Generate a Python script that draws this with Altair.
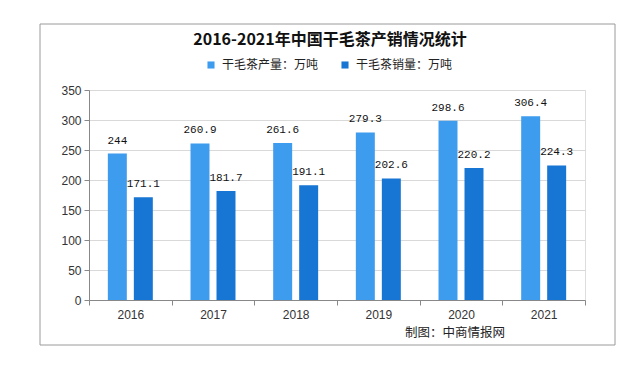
import altair as alt
import pandas as pd

years = ["2016", "2017", "2018", "2019", "2020", "2021"]
production = [244, 260.9, 261.6, 279.3, 298.6, 306.4]
sales = [171.1, 181.7, 191.1, 202.6, 220.2, 224.3]
production_labels = ["244", "260.9", "261.6", "279.3", "298.6", "306.4"]
sales_labels = ["171.1", "181.7", "191.1", "202.6", "220.2", "224.3"]
series = ["干毛茶产量：万吨", "干毛茶销量：万吨"]
colors = ["#3d9cee", "#1775d3"]
y_ticks = [0, 50, 100, 150, 200, 250, 300, 350]
title_text = "2016-2021年中国干毛茶产销情况统计"
footer_text = "制图：中商情报网"

rows = []
for i, yr in enumerate(years):
    rows.append({"year": yr, "series": series[0], "value": production[i], "label": production_labels[i]})
    rows.append({"year": yr, "series": series[1], "value": sales[i], "label": sales_labels[i]})
df = pd.DataFrame(rows)

x_enc = alt.X(
    "year:N",
    sort=years,
    scale=alt.Scale(paddingInner=0, paddingOuter=0),
    axis=alt.Axis(
        title=None, labelAngle=0, tickBand="extent", tickSize=5,
        labelFont="Liberation Sans", labelFontSize=12, labelColor="#333333",
        labelPadding=4, domainColor="#888888", tickColor="#888888", grid=False,
    ),
)
xoff_enc = alt.XOffset(
    "series:N", sort=series,
    scale=alt.Scale(paddingInner=0.27, paddingOuter=0.725),
)
y_enc = alt.Y(
    "value:Q",
    scale=alt.Scale(domain=[0, 350], nice=False),
    axis=alt.Axis(
        title=None, values=y_ticks, tickCount=8, tickSize=5, labelPadding=3,
        labelFont="Liberation Sans", labelFontSize=12, labelColor="#333333",
        labelOverlap=False,
        domainColor="#888888", tickColor="#888888", gridColor="#d9d9d9",
    ),
)

bars = alt.Chart(df).mark_bar().encode(
    x=x_enc,
    xOffset=xoff_enc,
    y=y_enc,
    color=alt.Color(
        "series:N", sort=series,
        scale=alt.Scale(domain=series, range=colors),
        legend=alt.Legend(
            title=None, orient="none", legendX=116, legendY=-31,
            direction="horizontal", symbolType="square", symbolSize=50,
            symbolStrokeWidth=0, labelFont="Noto Sans CJK SC", labelFontSize=12,
            labelColor="#222222", columnPadding=20, labelOffset=5,
        ),
    ),
)

texts = alt.Chart(df).mark_text(
    dy=-8, baseline="bottom", font="Liberation Mono", fontSize=11, color="#111111"
).encode(
    x=x_enc,
    xOffset=xoff_enc,
    y=y_enc,
    text="label:N",
)

frame = alt.Chart(pd.DataFrame({"k": [0]})).mark_rect(
    fill=None, stroke="#9a9a9a", strokeWidth=1
).encode(
    x=alt.value(-49), x2=alt.value(526), y=alt.value(-66), y2=alt.value(255)
)

footer = alt.Chart(pd.DataFrame({"t": [footer_text]})).mark_text(
    align="left", baseline="middle", font="Noto Sans CJK SC", fontSize=12.5, color="#222222"
).encode(
    x=alt.value(316), y=alt.value(243), text="t:N"
)

chart = alt.layer(frame, bars, texts, footer).properties(
    width=496,
    height=210,
    title=alt.TitleParams(
        title_text, font="Noto Sans CJK SC", fontSize=16, fontWeight="bold",
        color="#111111", anchor="middle", offset=-24, dx=-7,
    ),
    autosize=alt.AutoSizeParams(type="none"),
    padding={"left": 81, "top": 82, "right": 42, "bottom": 60},
).configure_view(stroke=None).configure(background="white")

chart.save("out.html", embed_options={"renderer": "svg", "actions": False})
